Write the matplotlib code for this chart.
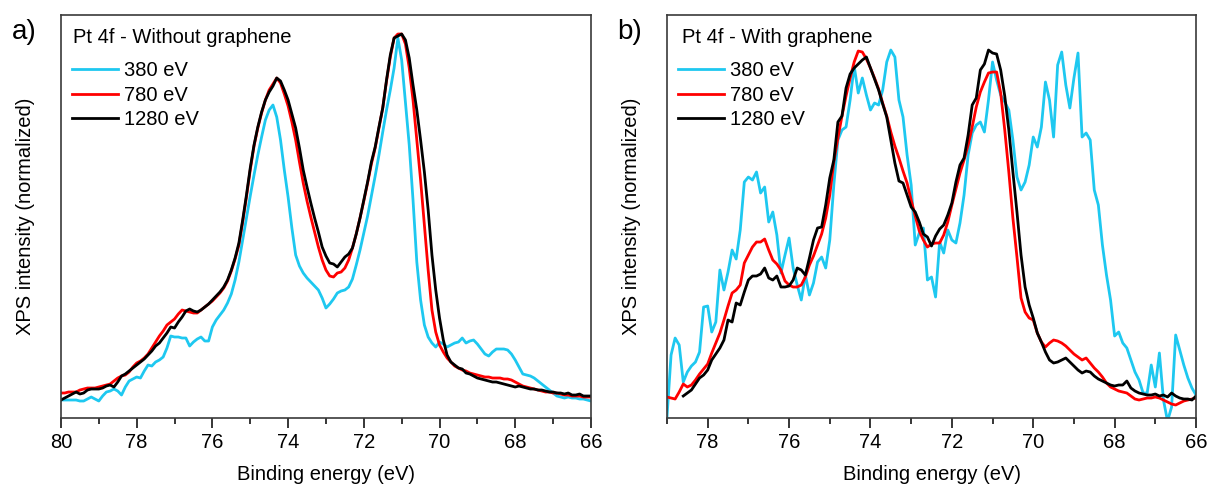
import numpy as np
import matplotlib
matplotlib.use("Agg")
import matplotlib.pyplot as plt
from matplotlib.ticker import MultipleLocator

plt.rcParams['font.family'] = ['Liberation Sans', 'DejaVu Sans']

# binding energy grids (eV), 0.1 eV steps
energy_a = np.linspace(80.0, 66.0, 141)
energy_b = np.linspace(79.0, 66.0, 131)
energy_b_1280 = np.linspace(78.6, 66.0, 127)

labels = ['380 eV', '780 eV', '1280 eV']
colors = ['#1ec8f0', '#ff0000', '#000000']

# a) without graphene, intensities (arb. units)
a_380 = [18, 18, 18, 18, 18, 17, 17, 19, 21, 19,
         17, 22, 26, 27, 29, 27, 23, 31, 37, 39,
         41, 40, 47, 53, 52, 56, 58, 61, 70, 82,
         81, 81, 80, 80, 72, 76, 79, 81, 77, 77,
         91, 98, 103, 108, 115, 124, 138, 156, 178, 200,
         222, 243, 263, 281, 298, 308, 313, 301, 278, 248,
         221, 190, 163, 152, 145, 140, 136, 132, 128, 120,
         110, 114, 119, 125, 127, 128, 131, 139, 153, 168,
         185, 202, 222, 242, 263, 286, 308, 328, 350, 380,
         358, 315, 273, 218, 156, 118, 93, 81, 75, 71,
         76, 74, 71, 73, 75, 76, 80, 75, 77, 78,
         74, 69, 64, 62, 66, 69, 69, 69, 68, 64,
         58, 51, 44, 43, 42, 40, 37, 34, 31, 28,
         25, 22, 21, 20, 21, 20, 20, 19, 19, 18,
         17]
a_780 = [25, 25, 26, 26, 26, 28, 29, 30, 30, 30,
         31, 32, 33, 34, 37, 40, 42, 43, 46, 51,
         55, 57, 60, 64, 70, 76, 82, 87, 93, 96,
         99, 104, 108, 107, 106, 105, 105, 108, 111, 114,
         117, 121, 125, 130, 137, 147, 159, 173, 196, 221,
         248, 272, 290, 305, 318, 328, 334, 340, 335, 324,
         312, 296, 278, 256, 235, 217, 201, 186, 171, 158,
         148, 142, 141, 145, 146, 150, 158, 170, 184, 200,
         217, 235, 254, 270, 290, 310, 337, 361, 380, 384,
         384, 374, 350, 318, 278, 238, 193, 148, 108, 86,
         73, 66, 60, 56, 52, 50, 48, 47, 45, 44,
         43, 42, 41, 41, 40, 40, 40, 39, 39, 38,
         36, 34, 32, 31, 30, 29, 28, 27, 26, 26,
         25, 25, 24, 23, 23, 22, 22, 22, 21, 21,
         21]
a_1280 = [18, 20, 22, 24, 26, 24, 25, 28, 29, 29,
          29, 30, 32, 33, 31, 36, 42, 44, 47, 50,
          53, 56, 59, 63, 67, 72, 75, 80, 85, 91,
          90, 96, 101, 107, 109, 107, 106, 108, 111, 114,
          118, 122, 126, 131, 138, 148, 160, 175, 198, 223,
          250, 273, 291, 306, 318, 326, 332, 340, 337, 328,
          318, 304, 290, 270, 248, 231, 215, 200, 186, 171,
          162, 155, 154, 151, 156, 161, 164, 170, 184, 200,
          218, 236, 256, 271, 291, 310, 338, 363, 380, 382,
          384, 378, 360, 333, 308, 278, 246, 208, 163, 128,
          100, 78, 63, 56, 53, 50, 49, 45, 44, 42,
          40, 39, 38, 37, 36, 36, 35, 34, 33, 32,
          31, 32, 31, 30, 29, 29, 28, 28, 27, 26,
          26, 25, 25, 24, 25, 23, 23, 24, 22, 22,
          22]

# b) with graphene
b_380 = [1,
         63, 80, 73, 36, 46, 52, 56, 66, 111, 112,
         86, 96, 148, 128, 146, 168, 159, 188, 236, 241,
         238, 246, 225, 231, 196, 206, 183, 145, 163, 180,
         150, 133, 118, 143, 123, 135, 156, 161, 150, 178,
         233, 278, 288, 291, 318, 352, 325, 340, 323, 308,
         315, 313, 328, 356, 368, 361, 318, 301, 263, 233,
         173, 185, 190, 138, 141, 121, 176, 165, 188, 178,
         175, 195, 223, 263, 285, 293, 296, 286, 318, 356,
         338, 323, 316, 308, 278, 241, 228, 236, 253, 281,
         271, 291, 336, 318, 281, 353, 366, 333, 310, 340,
         365, 281, 285, 278, 228, 213, 173, 143, 118, 82,
         86, 75, 70, 58, 46, 38, 25, 25, 53, 31,
         65, 18, -3, 11, 83, 68, 53, 40, 30, 23]
b_780 = [21,
         20, 19, 26, 34, 31, 33, 38, 44, 49, 54,
         65, 75, 85, 98, 112, 125, 128, 133, 155, 163,
         171, 176, 176, 179, 168, 158, 154, 148, 137, 133,
         131, 131, 133, 141, 153, 162, 173, 184, 200, 223,
         256, 280, 302, 322, 340, 356, 367, 366, 359, 350,
         340, 329, 315, 302, 286, 272, 260, 247, 235, 218,
         202, 187, 178, 171, 174, 175, 175, 183, 196, 213,
         229, 245, 258, 273, 291, 311, 326, 336, 345, 346,
         346, 325, 288, 246, 200, 161, 120, 106, 100, 98,
         85, 76, 71, 75, 78, 77, 75, 72, 68, 64,
         61, 58, 60, 55, 50, 46, 41, 35, 31, 29,
         27, 26, 25, 22, 19, 18, 19, 20, 20, 21,
         20, 18, 16, 14, 13, 15, 17, 18, 19, 20]
b_1280 = [22, 25, 28, 34, 40, 43, 48,
          58, 64, 70, 78, 98, 96, 115, 113, 126, 138,
          142, 142, 144, 150, 140, 138, 142, 131, 131, 132,
          138, 150, 148, 143, 160, 178, 190, 191, 213, 240,
          258, 296, 302, 330, 344, 350, 354, 358, 361, 350,
          339, 328, 314, 301, 278, 255, 237, 235, 223, 211,
          206, 196, 184, 181, 172, 182, 189, 193, 203, 215,
          236, 253, 260, 283, 313, 320, 348, 354, 368, 365,
          364, 348, 322, 288, 246, 206, 163, 131, 113, 100,
          85, 76, 66, 58, 55, 56, 58, 60, 56, 52,
          48, 45, 47, 46, 42, 39, 37, 35, 33, 32,
          33, 33, 37, 30, 27, 25, 24, 23, 23, 24,
          22, 23, 21, 25, 22, 20, 19, 19, 18, 22]

norm = 400.0
fs = 14.5

fig = plt.figure(figsize=(12.07, 4.86), dpi=100)
ax1 = fig.add_axes([0.0505, 0.1399, 0.4391, 0.8292])
ax2 = fig.add_axes([0.5526, 0.1399, 0.4383, 0.8292])

panels = [
    (ax1, [(energy_a, a_380), (energy_a, a_780), (energy_a, a_1280)], (80, 66),
     'Pt 4f - Without graphene', 'a)', 0.010, 0.0226),
    (ax2, [(energy_b, b_380), (energy_b, b_780), (energy_b_1280, b_1280)], (79, 66),
     'Pt 4f - With graphene', 'b)', 0.511, 0.028),
]

for ax, series, xlim, title, tag, tagx, titlex in panels:
    for (x, y), lab, col in zip(series, labels, colors):
        ax.plot(x, np.array(y) / norm, color=col, lw=2.0, label=lab)
    ax.set_xlim(*xlim)
    ax.set_ylim(0, 403 / norm)
    ax.set_yticks([])
    ax.xaxis.set_major_locator(MultipleLocator(2))
    ax.xaxis.set_minor_locator(MultipleLocator(1))
    ax.tick_params(axis='x', which='major', direction='out', length=7, width=1.1,
                   labelsize=fs, pad=4)
    ax.tick_params(axis='x', which='minor', direction='out', length=4, width=1.1)
    for s in ax.spines.values():
        s.set_color('#3a3a3a')
        s.set_linewidth(1.2)
    ax.set_xlabel('Binding energy (eV)', fontsize=fs, labelpad=9)
    ax.set_ylabel('XPS intensity (normalized)', fontsize=fs, labelpad=19)
    ax.text(titlex, 0.945, title, transform=ax.transAxes, fontsize=fs,
            ha='left', va='center')
    ax.legend(loc='upper left', bbox_to_anchor=(0.021, 0.886), frameon=False,
              fontsize=fs, handlelength=2.3, handletextpad=0.3,
              borderpad=0, borderaxespad=0, labelspacing=0.28)
    fig.text(tagx, 0.934, tag, fontsize=20, ha='left', va='center')

fig.savefig('out.png', dpi=100)
